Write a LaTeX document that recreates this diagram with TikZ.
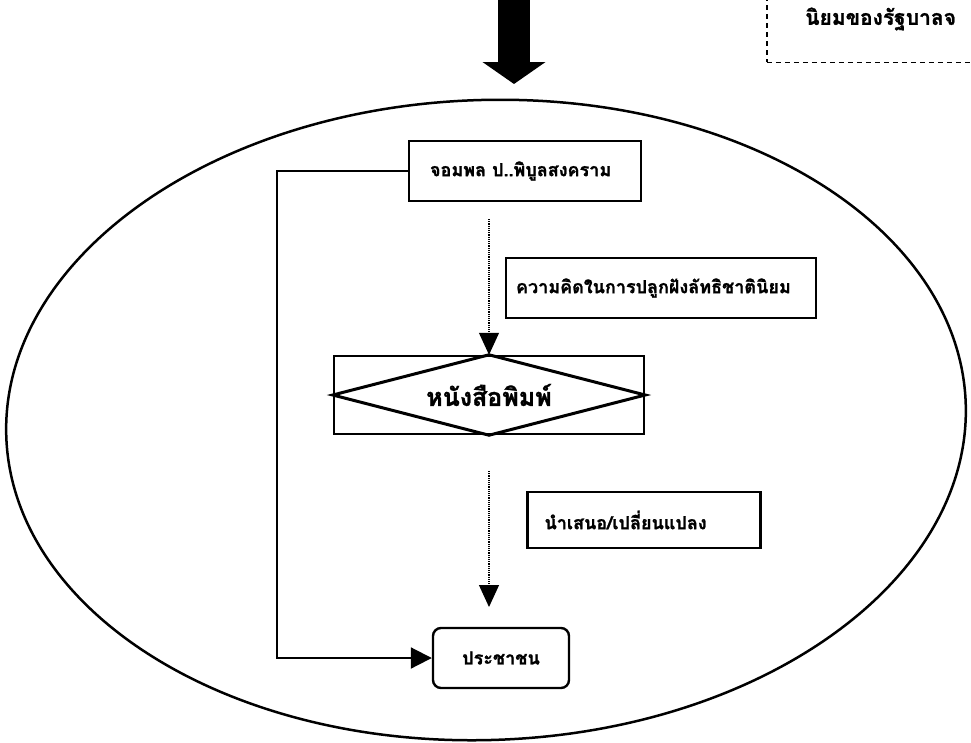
\documentclass[tikz,border=0pt]{standalone}
\usepackage{fontspec}
\newfontfamily\thaifont[Script=Thai,BoldFeatures={FakeBold=1.2}]{Loma}
\usetikzlibrary{arrows.meta}

\begin{document}
\begin{tikzpicture}
[x=1pt,y=-1pt,
  boxDecorate/.style={draw,line width=2.4pt,inner ysep=0pt,
    font=\thaifont\bfseries\fontsize{18}{21}\selectfont},
  lineDecorate/.style={line width=2pt,-{Triangle[length=21pt,width=21pt]}},
  dotDecorate/.style={densely dotted,line width=1.2pt,-{Triangle[length=22pt,width=20pt]}}]
\useasboundingbox (0,0) rectangle (971,742);
\clip (0,0) rectangle (971,742);
%% outer frame, note and big arrow
\draw[line width=2.5pt,rotate around={2:(486,420)}]
  (486,420) ellipse [x radius=480pt, y radius=320pt];
\node (note) at (766,63) [draw,line width=1.5pt,dash pattern=on 5pt off 4pt,
  anchor=south west,minimum width=300pt,minimum height=120pt] {};
\node (noteText) at (805,19) [anchor=west,inner sep=0pt,
  font=\thaifont\bfseries\fontsize{21}{25}\selectfont] {นิยมของรัฐบาลจ};
\coordinate (arrowTop) at (514,-10);
\coordinate (arrowTip) at (514,84);
\draw[line width=32pt,-{Triangle[length=22pt,width=62pt]}] (arrowTop) -- (arrowTip);
%% nodes or boxes
\foreach \nodename/\x/\y/\w/\h/\p/\label in {
  leader/525/171/232/60/21/{จอมพล ป..พิบูลสงคราม},
  idea/661/288/310/60/10/{ความคิดในการปลูกฝังลัทธิชาตินิยม},
  change/644/520/233/56/17/{นำเสนอ/เปลี่ยนแปลง}}
{
  \node (\nodename) at (\x,\y) [boxDecorate,inner xsep=\p pt,
    text width=\w pt-2*\p pt,align=left,minimum height=\h pt] {\label};
}
\node (paper) at (489,395) [draw,line width=2.4pt,minimum width=310pt,minimum height=78pt,
  font=\thaifont\bfseries\fontsize{25}{30}\selectfont] {หนังสือพิมพ์};
\draw[line width=3pt] (paper.north) -- (paper.east) -- (paper.south) -- (paper.west) -- cycle;
\node (people) at (501,658) [boxDecorate,rounded corners=8pt,
  minimum width=136pt,minimum height=60pt] {ประชาชน};
%% connectors
\coordinate (turnX) at (277,0);
\coordinate (ideaStart) at (489,219);
\coordinate (changeStart) at (489,471);
\coordinate (changeEnd) at (489,607);
\draw[lineDecorate] (leader.west) -- (leader.west -| turnX) |- (people.west);
\draw[dotDecorate] (ideaStart) -- (paper.north);
\draw[dotDecorate] (changeStart) -- (changeEnd);
\end{tikzpicture}
\end{document}
